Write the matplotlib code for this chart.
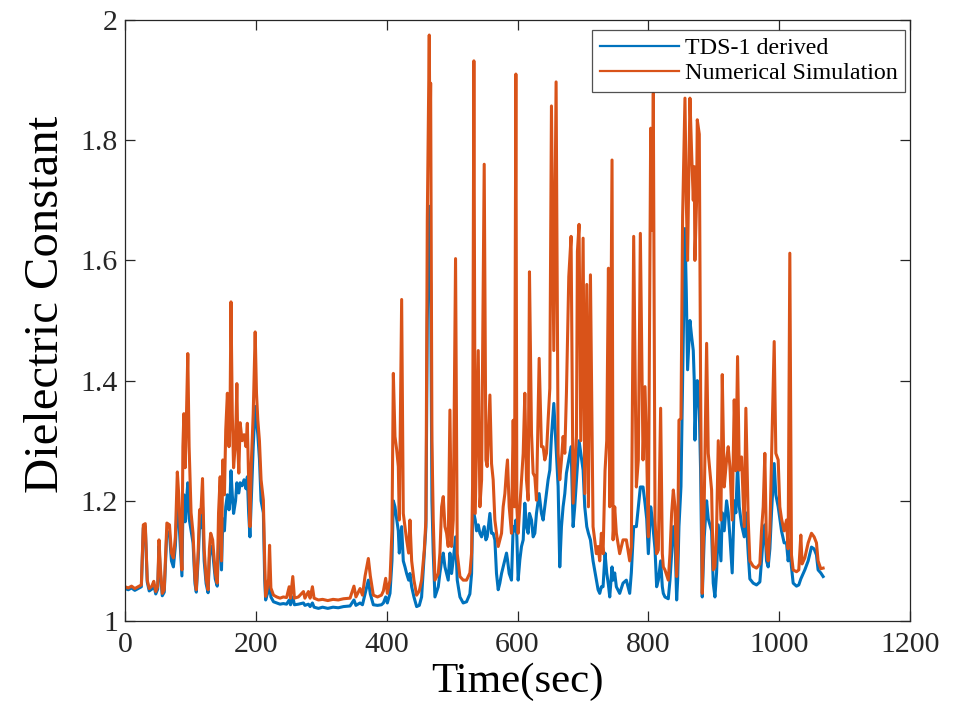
import matplotlib
matplotlib.use('Agg')
import matplotlib.pyplot as plt
from matplotlib.ticker import FuncFormatter

# time (s) and dielectric constant
# 0 - 215 s
t_early = [0, 5, 10, 15, 20, 25, 28, 31, 34, 37, 41, 44, 47, 50, 52, 54, 57, 60, 64, 68,
           71, 74, 77, 80, 82, 85, 87, 88.5, 90, 92, 94, 96, 98, 101, 104, 107, 109, 112, 114, 116,
           118.5, 121, 124, 127, 129, 131, 134, 138, 141, 143, 145.5, 147.5, 149.5, 152, 154, 156.5, 159, 160.5, 162, 164,
           166, 169, 171, 172.5, 174, 176, 179, 182, 185, 187, 189, 191, 193, 196, 199, 201, 203, 205.5, 208, 211.5,
           213.5, 215]
sim_early = [1.057, 1.055, 1.058, 1.054, 1.057, 1.060, 1.160, 1.162, 1.068, 1.054,
             1.058, 1.066, 1.049, 1.058, 1.135, 1.090, 1.046, 1.052, 1.163, 1.160,
             1.113, 1.105, 1.140, 1.248, 1.212, 1.140, 1.085, 1.290, 1.345, 1.255,
             1.345, 1.445, 1.290, 1.180, 1.146, 1.070, 1.052, 1.120, 1.185, 1.180,
             1.237, 1.120, 1.070, 1.052, 1.120, 1.146, 1.135, 1.080, 1.063, 1.180,
             1.240, 1.100, 1.268, 1.210, 1.318, 1.379, 1.290, 1.335, 1.531, 1.345,
             1.255, 1.300, 1.395, 1.290, 1.246, 1.330, 1.300, 1.310, 1.290, 1.329,
             1.235, 1.157, 1.260, 1.345, 1.481, 1.379, 1.335, 1.300, 1.235, 1.201,
             1.100, 1.041]
tds_early = [1.054, 1.052, 1.055, 1.051, 1.054, 1.057, 1.155, 1.157, 1.065, 1.050,
             1.053, 1.060, 1.045, 1.053, 1.125, 1.080, 1.042, 1.048, 1.150, 1.145,
             1.100, 1.090, 1.125, 1.200, 1.175, 1.115, 1.075, 1.180, 1.210, 1.165,
             1.200, 1.230, 1.171, 1.150, 1.130, 1.062, 1.048, 1.105, 1.160, 1.155,
             1.190, 1.100, 1.062, 1.047, 1.105, 1.125, 1.115, 1.070, 1.058, 1.130,
             1.160, 1.085, 1.170, 1.150, 1.190, 1.210, 1.185, 1.200, 1.250, 1.210,
             1.179, 1.200, 1.230, 1.215, 1.213, 1.230, 1.225, 1.235, 1.220, 1.240,
             1.180, 1.140, 1.200, 1.290, 1.357, 1.335, 1.310, 1.270, 1.200, 1.180,
             1.070, 1.035]

# 215 - 400 s
t_quiet = [217, 219.5, 221, 223, 227, 232, 237, 242, 247, 251,
           253, 256.5, 259, 265, 272.8, 275, 280.4, 283, 286.5, 289,
           295.7, 302, 310, 318, 326, 334, 344, 350, 353, 359.3,
           363, 367, 372, 375, 379.6, 386, 392, 395, 398.5]
sim_quiet = [1.052, 1.070, 1.126, 1.055, 1.043, 1.040, 1.038, 1.040, 1.039, 1.057,
             1.038, 1.074, 1.038, 1.040, 1.049, 1.038, 1.049, 1.038, 1.057, 1.038,
             1.035, 1.036, 1.034, 1.036, 1.035, 1.037, 1.038, 1.058, 1.040, 1.054,
             1.043, 1.075, 1.104, 1.075, 1.043, 1.040, 1.043, 1.050, 1.071]
tds_quiet = [1.043, 1.050, 1.068, 1.040, 1.032, 1.030, 1.028, 1.029, 1.028, 1.035,
             1.027, 1.040, 1.027, 1.028, 1.030, 1.026, 1.028, 1.024, 1.030, 1.023,
             1.021, 1.023, 1.021, 1.023, 1.022, 1.024, 1.025, 1.035, 1.026, 1.030,
             1.027, 1.045, 1.068, 1.045, 1.027, 1.026, 1.027, 1.030, 1.040]

# 400 - 795 s
t_active = [401, 405.1, 408.1, 410.2, 412.7, 415.3, 417.8, 419.3, 422.9, 425.4,
            428, 430.5, 433.6, 435.6, 438.2, 441.7, 445.8, 449.9, 453.4, 457.5,
            460, 462.1, 465.1, 466.2, 467.2, 469.2, 471.2, 473.8, 478.9, 481.4,
            484, 486.5, 489.1, 491.6, 494.1, 496.7, 499.2, 501.8, 505.3, 507.9,
            512, 517, 522.1, 527.2, 529.8, 531.3, 533.3, 535.4, 537.4, 540,
            542.5, 545.1, 549.1, 551.7, 553.7, 557.8, 560.3, 562.8, 565.4, 567.9,
            570.5, 573, 575.6, 578.1, 580.7, 583.2, 584.7, 587.3, 590.8, 593.4,
            595.4, 597.5, 599, 601, 603.6, 606.1, 608.7, 611.2, 613.7, 616.3,
            618.3, 621.4, 623.9, 626.5, 629, 633.1, 636.6, 639.2, 641.7, 644.3,
            646.8, 649.4, 651.9, 655.5, 659, 662.1, 664.6, 667.2, 669.7, 672.3,
            674.8, 678.4, 681.9, 685, 687.5, 690.1, 691.6, 694.1, 696.7, 700.3,
            702.8, 705.9, 708.4, 711.5, 715.5, 720.6, 723.2, 725.7, 728.2, 730.8,
            733.8, 736.4, 739, 741, 744.5, 746.1, 748.6, 751.1, 756.2, 761.3,
            766.4, 771.5, 774, 777.6, 781.7, 784.7, 787.8, 791.9]
sim_active = [1.046, 1.068, 1.150, 1.412, 1.307, 1.285, 1.257, 1.168, 1.535, 1.179,
              1.157, 1.135, 1.113, 1.168, 1.100, 1.068, 1.043, 1.050, 1.068, 1.118,
              1.168, 1.667, 1.975, 1.780, 1.895, 1.300, 1.168, 1.068, 1.079, 1.113,
              1.190, 1.207, 1.157, 1.146, 1.124, 1.351, 1.124, 1.168, 1.603, 1.112,
              1.074, 1.068, 1.068, 1.080, 1.113, 1.223, 1.932, 1.179, 1.300, 1.450,
              1.190, 1.235, 1.760, 1.268, 1.257, 1.376, 1.262, 1.235, 1.168, 1.146,
              1.124, 1.135, 1.146, 1.190, 1.212, 1.251, 1.268, 1.190, 1.146, 1.334,
              1.190, 1.910, 1.190, 1.146, 1.190, 1.235, 1.279, 1.379, 1.235, 1.201,
              1.581, 1.312, 1.246, 1.240, 1.201, 1.437, 1.290, 1.290, 1.268, 1.279,
              1.334, 1.387, 1.857, 1.450, 1.897, 1.279, 1.235, 1.268, 1.307, 1.279,
              1.379, 1.573, 1.640, 1.196, 1.251, 1.307, 1.615, 1.660, 1.300, 1.637,
              1.212, 1.560, 1.190, 1.576, 1.157, 1.112, 1.124, 1.100, 1.146, 1.112,
              1.250, 1.300, 1.587, 1.190, 1.767, 1.135, 1.190, 1.146, 1.112, 1.135,
              1.135, 1.100, 1.124, 1.640, 1.223, 1.268, 1.645, 1.268]
tds_active = [1.030, 1.046, 1.100, 1.200, 1.190, 1.170, 1.150, 1.113, 1.157, 1.100,
              1.090, 1.079, 1.068, 1.079, 1.057, 1.040, 1.024, 1.026, 1.040, 1.112,
              1.156, 1.500, 1.690, 1.600, 1.560, 1.200, 1.113, 1.040, 1.057, 1.080,
              1.100, 1.113, 1.090, 1.079, 1.068, 1.113, 1.079, 1.102, 1.140, 1.068,
              1.040, 1.030, 1.032, 1.045, 1.079, 1.168, 1.179, 1.168, 1.150, 1.160,
              1.146, 1.140, 1.157, 1.135, 1.140, 1.179, 1.146, 1.146, 1.135, 1.079,
              1.052, 1.063, 1.079, 1.090, 1.102, 1.113, 1.102, 1.079, 1.068, 1.157,
              1.150, 1.168, 1.140, 1.068, 1.102, 1.124, 1.135, 1.196, 1.157, 1.146,
              1.179, 1.168, 1.140, 1.146, 1.179, 1.212, 1.179, 1.168, 1.190, 1.212,
              1.235, 1.251, 1.307, 1.362, 1.290, 1.224, 1.090, 1.157, 1.190, 1.212,
              1.246, 1.268, 1.290, 1.157, 1.190, 1.234, 1.260, 1.300, 1.280, 1.251,
              1.190, 1.157, 1.146, 1.135, 1.100, 1.068, 1.052, 1.046, 1.057, 1.057,
              1.113, 1.080, 1.060, 1.040, 1.090, 1.068, 1.080, 1.057, 1.046, 1.063,
              1.068, 1.046, 1.080, 1.157, 1.157, 1.190, 1.223, 1.223]

# 795 - 1067 s
t_late = [794.9, 797.5, 800, 803.6, 806.1, 807.6, 810.2, 812.7, 815.3, 818.8,
          821.4, 822.9, 825.4, 830.5, 833.1, 835.6, 838.2, 840.7, 843.3, 844.8,
          846.8, 849.9, 852.4, 856, 858, 860, 863.6, 866.2, 868.7, 870.2,
          871.2, 873.8, 874.8, 877.9, 879.9, 882.4, 885.5, 889.1, 891.6, 896.7,
          899.2, 901.8, 904.3, 906.9, 911, 913, 916, 919.6, 922.1, 924.7,
          928.2, 931.3, 933.8, 936.4, 939, 942.5, 946.6, 949.1, 952.7, 955.2,
          960.3, 965.4, 970.5, 973, 975.6, 978.1, 980.7, 983.2, 985.8, 988.3,
          992.4, 994.9, 998.5, 1001, 1003.6, 1007.6, 1011.2, 1013.7, 1016.3, 1018.8,
          1021.4, 1026.5, 1030, 1033.1, 1035.1, 1039.2, 1044.3, 1049.4, 1053.4, 1057,
          1059.5, 1063.6, 1067.2]
sim_late = [1.390, 1.279, 1.140, 1.820, 1.650, 1.878, 1.168, 1.112, 1.118, 1.354,
            1.112, 1.090, 1.085, 1.068, 1.112, 1.179, 1.218, 1.190, 1.074, 1.112,
            1.334, 1.337, 1.673, 1.870, 1.700, 1.600, 1.870, 1.778, 1.700, 1.756,
            1.600, 1.700, 1.834, 1.810, 1.390, 1.046, 1.200, 1.462, 1.279, 1.218,
            1.085, 1.090, 1.150, 1.300, 1.168, 1.410, 1.223, 1.268, 1.290, 1.257,
            1.168, 1.368, 1.250, 1.440, 1.251, 1.273, 1.157, 1.354, 1.168, 1.100,
            1.091, 1.088, 1.095, 1.150, 1.190, 1.279, 1.120, 1.100, 1.150, 1.268,
            1.465, 1.279, 1.268, 1.190, 1.170, 1.150, 1.168, 1.120, 1.612, 1.110,
            1.085, 1.082, 1.085, 1.143, 1.095, 1.105, 1.130, 1.146, 1.140, 1.130,
            1.100, 1.087, 1.088]
tds_late = [1.196, 1.170, 1.112, 1.190, 1.170, 1.150, 1.120, 1.057, 1.068, 1.100,
            1.057, 1.046, 1.040, 1.037, 1.068, 1.112, 1.157, 1.140, 1.035, 1.068,
            1.157, 1.224, 1.400, 1.653, 1.550, 1.418, 1.500, 1.473, 1.450, 1.400,
            1.301, 1.390, 1.400, 1.350, 1.250, 1.040, 1.140, 1.200, 1.170, 1.150,
            1.063, 1.040, 1.080, 1.160, 1.100, 1.180, 1.150, 1.200, 1.180, 1.140,
            1.080, 1.200, 1.180, 1.260, 1.190, 1.160, 1.140, 1.180, 1.112, 1.070,
            1.063, 1.060, 1.065, 1.100, 1.140, 1.160, 1.100, 1.090, 1.120, 1.180,
            1.262, 1.210, 1.190, 1.170, 1.150, 1.130, 1.130, 1.100, 1.120, 1.090,
            1.063, 1.058, 1.060, 1.070, 1.075, 1.085, 1.100, 1.123, 1.120, 1.110,
            1.085, 1.080, 1.074]

time_s = t_early + t_quiet + t_active + t_late
tds = tds_early + tds_quiet + tds_active + tds_late
sim = sim_early + sim_quiet + sim_active + sim_late

plt.rcParams['font.family'] = ['Liberation Serif', 'DejaVu Serif']

fig = plt.figure(figsize=(9.63, 7.21), dpi=100)
ax = fig.add_axes([125 / 963, 100 / 721, 785 / 963, 601 / 721])

ax.plot(time_s, tds, color='#0072BD', lw=2.2, label='TDS-1 derived')
ax.plot(time_s, sim, color='#D95319', lw=2.2, label='Numerical Simulation')

ax.set_xlim(0, 1200)
ax.set_ylim(1, 2)
ax.set_xticks(range(0, 1201, 200))
ax.set_yticks([1, 1.2, 1.4, 1.6, 1.8, 2])
ax.yaxis.set_major_formatter(FuncFormatter(lambda v, p: f'{v:g}'))
ax.tick_params(direction='in', top=True, right=True, length=7, width=0.9,
               labelsize=21.5, colors='#262626')
ax.tick_params(axis='x', pad=8)
ax.tick_params(axis='y', pad=5)
for s in ax.spines.values():
    s.set_color('#262626')
    s.set_linewidth(0.9)

ax.set_xlabel('Time(sec)', fontsize=31, color='#000000', labelpad=3)
ax.set_ylabel('Dielectric Constant', fontsize=35, color='#000000')
ax.yaxis.set_label_coords(-0.072, 0.527)

leg = ax.legend(loc='upper right', bbox_to_anchor=(905 / 963, 691 / 721),
                bbox_transform=fig.transFigure, borderaxespad=0, fontsize=17.3,
                frameon=True, fancybox=False, edgecolor='#262626',
                handlelength=3.3, handletextpad=0.25, borderpad=0.3,
                labelspacing=0.15)
leg.get_frame().set_linewidth(0.9)
for line in leg.get_lines():
    line.set_linewidth(1.6)

fig.savefig('out.png', dpi=100)
